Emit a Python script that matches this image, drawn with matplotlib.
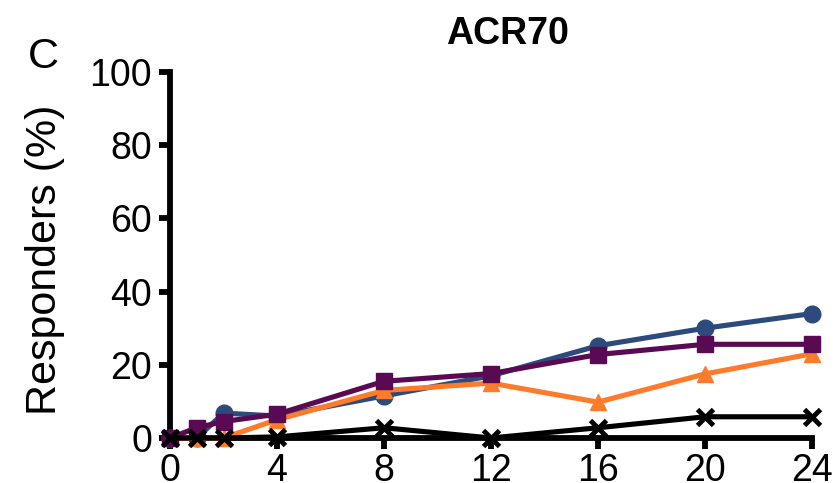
import matplotlib
matplotlib.use("Agg")
import matplotlib.pyplot as plt

plt.rcParams['font.family'] = ['Liberation Sans', 'DejaVu Sans']

weeks = [0, 1, 2, 4, 8, 12, 16, 20, 24]
blue_vals = [0, 0, 6.8, 6, 11.5, 17, 25.2, 30, 34]
orange_vals = [0, 0, 0, 5, 13, 15, 9.8, 17.5, 23]
purple_vals = [0, 2.8, 4.5, 6.5, 15.5, 17.6, 22.8, 25.6, 25.6]
black_vals = [0, 0, 0, 0.3, 2.8, 0, 2.8, 5.8, 5.8]

xticks = [0, 4, 8, 12, 16, 20, 24]
yticks = [0, 20, 40, 60, 80, 100]

fig = plt.figure(figsize=(8.33, 4.83), dpi=100)
ax = fig.add_axes([170/833, 1-438/483, 642/833, 366/483])

lw = 3.7
ax.plot(weeks, blue_vals, color='#2C4A7C', marker='o', lw=lw, ms=12, clip_on=False, zorder=3)
ax.plot(weeks, orange_vals, color='#FF7B2C', marker='^', lw=lw, ms=12, clip_on=False, zorder=4)
ax.plot(weeks, purple_vals, color='#5A0A52', marker='s', lw=lw, ms=11, clip_on=False, zorder=5)
ax.plot(weeks, black_vals, color='black', marker='x', lw=lw, ms=12, mew=3.5, clip_on=False, zorder=6)

ax.set_xlim(0, 24)
ax.set_ylim(0, 100)
ax.set_xticks(xticks)
ax.set_yticks(yticks)
for s in ['top', 'right']:
    ax.spines[s].set_visible(False)
for s in ['left', 'bottom']:
    ax.spines[s].set_linewidth(4.2)
    ax.spines[s].set_capstyle('projecting')
ax.tick_params(axis='both', width=4.2, length=8, labelsize=27)
ax.tick_params(axis='x', pad=3)
ax.tick_params(axis='y', pad=5)
ax.set_facecolor('none')

fig.text(45/833, 1-260/483, 'Responders (%)', rotation=90, ha='center', va='center', fontsize=31)
fig.text(508/833, 1-44/483, 'ACR70', ha='center', va='baseline', fontsize=27, fontweight='bold')
fig.text(28/833, 1-68/483, 'C', ha='left', va='baseline', fontsize=31)

fig.savefig('out.png', dpi=100)
